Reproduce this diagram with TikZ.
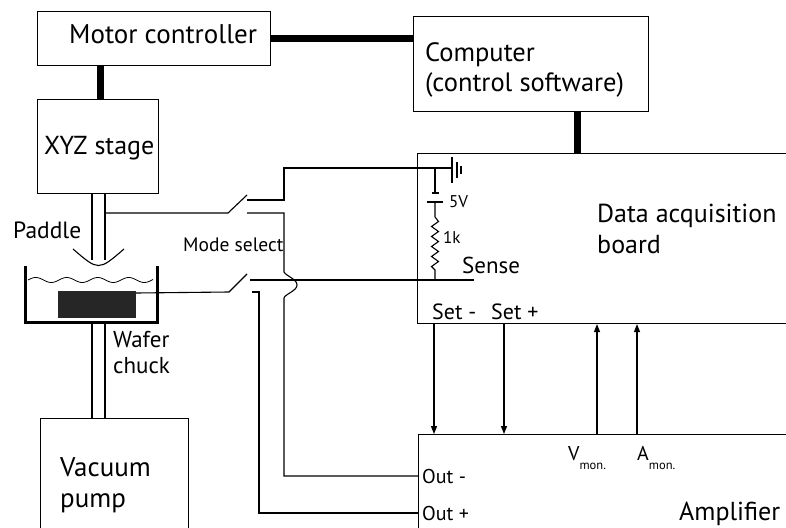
\documentclass[tikz,border=0pt]{standalone}
\usepackage{fontspec}
\setmainfont{PT Sans}
\usetikzlibrary{arrows.meta}
\newcommand{\fs}[1]{\fontsize{#1}{#1}\selectfont}
\begin{document}
\begin{tikzpicture}[x=1pt,y=-1pt,
  wire/.style={line width=1.1pt},
  bus/.style={line width=7.5pt},
  box/.style={draw, line width=1.1pt, inner sep=0pt, anchor=north west},
  txt/.style={inner sep=0pt, anchor=base west},
  sig/.style={wire, -{Triangle[length=8pt,width=6pt]}},
  wall/.style={line width=3pt, line join=miter}]
\useasboundingbox (0,0) rectangle (786,527);
\clip (0,0) rectangle (786,527);

% blocks
\node[box, minimum width=233pt, minimum height=54pt] (mc) at (37,11) {};
\node[box, minimum width=235pt, minimum height=95pt] (comp) at (413,16) {};
\node[box, minimum width=121pt, minimum height=94pt] (xyz) at (37,99) {};
\node[box, minimum width=420pt, minimum height=170pt] (daq) at (417,153) {};
\node[box, minimum width=420pt, minimum height=150pt] (amp) at (418,434) {};
\node[box, minimum width=148pt, minimum height=150pt] (vac) at (40,418) {};

% block labels
\node[txt, font=\fs{27}] (tmc) at (69,44) {Motor controller};
\node[txt, font=\fs{26.5}] (tcomp1) at (425,61) {Computer};
\node[txt, font=\fs{26.5}] (tcomp2) at (425,91) {(control software)};
\node[txt, font=\fs{26}] (txyz) at (44,154) {XYZ stage};
\node[txt, font=\fs{26}] (tdaq1) at (597,222) {Data acquisition};
\node[txt, font=\fs{26}] (tdaq2) at (597,253) {board};
\node[txt, font=\fs{26}] (tamp) at (679,520) {Amplifier};
\node[txt, font=\fs{27}] (tvac1) at (60,476) {Vacuum};
\node[txt, font=\fs{27}] (tvac2) at (60,507) {pump};

% data buses
\draw[bus] (mc.east) -- (mc.east -| comp.west);
\draw[bus] ([xshift=2.5pt]xyz.north) -- ([xshift=2.5pt]xyz.north |- mc.south);
\draw[bus] ([xshift=46.5pt]comp.south) -- ([xshift=46.5pt]comp.south |- daq.north);

% paddle on its shaft
\draw[wire] (92,193) -- (92,259.5) (105,193) -- (105,259.5);
\draw[wire] (73,249) .. controls (98.5,271) .. (124,249);
\node[txt, font=\fs{23.5}] (tpad) at (13,238) {Paddle};

% bath, liquid and wafer chuck
\draw[wall] (25,266) -- (25,322) -- (157,322) -- (157,266);
\draw[line width=0.8pt] plot[domain=28:153, samples=120, smooth]
  (\x, {280-2.5*sin((\x-28)*11.6129)});
\fill[black!85] (58,291) rectangle (136,318);
\draw[wire] (92,322) -- (92,418) (105,322) -- (105,418);
\node[txt, font=\fs{23}] (twaf1) at (113,347) {Wafer};
\node[txt, font=\fs{23}] (twaf2) at (113,373) {chuck};

% mode select switches
\coordinate (s1a) at (228,213);
\coordinate (s1b) at (247,195);
\coordinate (s2a) at (229,292);
\coordinate (s2b) at (247,274);
\draw[wire] (105,213) -- (s1a) -- (s1b);
\draw[wire] (136,293) -- (s2a) -- (s2b);
\node[txt, font=\fs{19.5}] (tmode) at (183,251) {Mode select};

% source circuit inside the acquisition board
\coordinate (gnd) at (452,168);
\coordinate (jn) at (435,168);
\coordinate (sn) at (435,280);
\draw[wire] (247,200) -- (284,200) -- (284,168) -- (gnd);
\draw[wire] (452,157) -- (452,183);
\draw[wire] (457,162) -- (457,178);
\draw[wire] (461,166) -- (461,174);
\draw[wire] (jn) -- (435,193);
\draw[wire] (431.5,193) -- (438.5,193);
\draw[wire] (427,202) -- (443,202);
\draw[wire] (435,202) -- (435,217)
  -- (438.5,221.5) -- (431.5,226.5) -- (438.5,231.5) -- (431.5,236.5)
  -- (438.5,241.5) -- (431.5,246.5) -- (438.5,251.5) -- (431.5,256.5)
  -- (438.5,261.5) -- (431.5,266.5) -- (435,270) -- (sn);
\node[txt, font=\fs{17}] (t5v) at (449,207) {5V};
\node[txt, font=\fs{17}] (t1k) at (443,243) {1k};
\draw[wire] (250,280) -- (474,280);
\node[txt, font=\fs{23}] (tsense) at (462,273) {Sense};
\node[txt, font=\fs{22}] (tsetm) at (432,319) {Set -};
\node[txt, font=\fs{22}] (tsetp) at (491,319) {Set +};

% outputs back to the switches
\coordinate (om) at (amp.north west |- 0,476);
\coordinate (op) at (amp.north west |- 0,513);
\draw[wire] (247,213) -- (284,213) -- (284,272)
  .. controls (286,276) and (297,279) .. (297,285)
  .. controls (297,291) and (285,294) .. (284,298) -- (284,476) -- (om);
\draw[wire] (252,292) -- (259,292) -- (259,513) -- (op);
\node[txt, font=\fs{20}] (toutm) at (422,483) {Out -};
\node[txt, font=\fs{20}] (toutp) at (422,520) {Out +};

% set and monitor signals
\draw[sig] (daq.south west -| 434,0) -- (amp.north west -| 434,0);
\draw[sig] (daq.south west -| 504,0) -- (amp.north west -| 504,0);
\draw[sig] (amp.north west -| 597,0) -- (daq.south west -| 597,0);
\draw[sig] (amp.north west -| 637,0) -- (daq.south west -| 637,0);
\node[txt, font=\fs{20}] (tvmon) at (568,460) {V\raisebox{-9pt}{\fs{12.5}mon.}};
\node[txt, font=\fs{20}] (tamon) at (637,460) {A\raisebox{-9pt}{\fs{12.5}mon.}};
\end{tikzpicture}
\end{document}
